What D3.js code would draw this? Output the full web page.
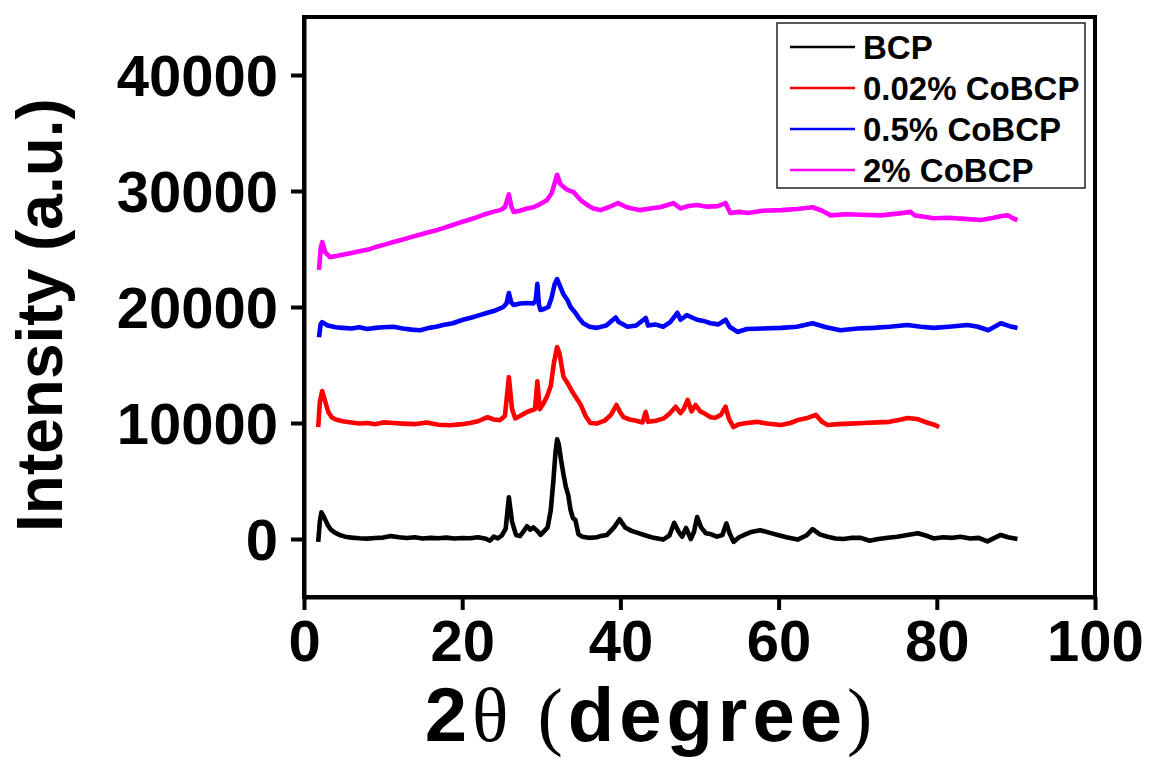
<!DOCTYPE html>
<html>
<head>
<meta charset="utf-8">
<script src="https://cdn.jsdelivr.net/npm/d3@7"></script>
<style>
  html, body { margin: 0; padding: 0; background: #fff; }
  svg { display: block; }
  text { font-family: "Liberation Sans", Arial, sans-serif; font-weight: bold; fill: #000; }
</style>
</head>
<body>
<svg id="chart" width="1149" height="760"></svg>
<script>
// ---- Data ----
const seriesNames = ["BCP", "0.02% CoBCP", "0.5% CoBCP", "2% CoBCP"];
const seriesColors = ["#000000", "#ff0000", "#0000ff", "#ff00ff"];
const xTicks = [0, 20, 40, 60, 80, 100];
const yTicks = [0, 10000, 20000, 30000, 40000];

const bcpAngle = [1.8,2.0,2.2,2.6,3.0,3.4,3.9,4.5,5.2,6,7,8,9,10,11,12,13,14,15,16,17,18,19,20,21,22,23,23.5,24,24.5,25,25.5,25.9,26.3,26.8,27.3,27.8,28.2,28.6,29.0,29.5,29.9,30.4,30.8,31.2,31.5,31.8,32.0,32.2,32.5,32.8,33.1,33.4,33.7,34.0,34.3,34.7,35.2,36,37,37.5,38.3,39.2,39.9,40.6,41.4,42.1,43,44.2,45.4,46.2,46.8,47.3,47.8,48.3,48.9,49.3,49.7,50.2,50.8,51.5,52.2,52.9,53.4,53.8,54.3,55,55.8,56.5,57.7,58.8,59.9,61,62.4,63.5,64.3,65.2,66.2,67.2,68.2,69.3,70.4,71.5,72.6,73.8,75,76.3,77.6,78.6,79.6,80.8,82,83,84.2,85.3,86.4,87.3,88.1,89,90.2];
const bcpIntensity = [-250,1500,2300,1800,1200,800,550,350,200,120,60,30,80,120,250,150,80,150,50,100,60,120,40,90,60,150,20,-150,200,50,300,900,3600,1500,350,250,700,1100,800,1000,700,350,700,1000,2500,4800,7500,8600,8200,6800,5600,4500,3800,2500,1800,1650,400,200,100,150,250,350,1000,1700,1000,700,550,350,100,-50,300,1400,700,200,950,0,600,1900,1000,500,400,200,350,1350,500,-250,150,400,600,750,550,350,150,-50,300,850,400,200,50,0,100,100,-150,0,100,200,350,500,300,50,150,100,200,50,100,-200,100,350,150,0];

const co002Angle = [1.8,2.0,2.3,2.7,3.1,3.5,4.0,4.9,6,7,8,9,10,11.3,12.5,14,15.5,17,18.5,20,21,22,23.2,24,24.8,25.4,25.9,26.3,26.7,27.3,28.2,28.8,29.2,29.5,29.8,30.2,30.7,31.2,31.6,32.0,32.3,32.8,33.3,34,35,35.6,36.2,37,38,38.8,39.5,40.0,40.4,41.2,42,42.8,43.2,43.5,44.5,45.5,46.2,47,47.6,48.0,48.5,49.0,49.5,50.1,50.7,51.4,52,52.7,53.3,53.7,54.3,55,56,57.3,58.5,60.3,61.5,62.4,63.5,64.7,65.5,66.2,67.5,69,70.8,72.5,74,75.5,76.3,77.5,78.9,79.7,80.3];
const co002Intensity = [9650,11800,12750,11800,10900,10500,10300,10150,10050,9950,10000,9900,10050,10000,9950,9900,10050,9850,9800,9900,10000,10150,10500,10300,10250,10600,13950,11200,10400,10600,10950,11100,11200,13600,11200,11600,12250,13200,15200,16550,16000,14000,13450,12600,11550,10600,10000,9950,10200,10700,11550,10900,10500,10300,10200,10050,10950,10100,10200,10400,10800,11400,10850,11200,12000,11000,11550,11000,10800,10500,10450,10700,11400,10400,9650,9900,10000,10100,9950,9830,10000,10250,10400,10700,10100,9830,9900,9950,10000,10050,10100,10300,10430,10350,10000,9850,9650];

const co05Angle = [1.9,2.1,2.3,3,4,4.9,6,7,8,9,10,11.3,12.5,13.6,14.7,15.8,16.7,17.6,18.8,20.1,21.2,22.2,23.2,24.2,25.2,25.6,25.9,26.2,26.5,27.3,28.2,29.0,29.3,29.5,29.7,29.9,30.4,30.9,31.3,31.7,32.0,32.3,32.8,33.3,33.7,34.3,34.8,35.3,36.1,37,38.2,39.4,39.8,40.9,42,43.2,43.5,44.4,45.4,46.3,47.2,47.6,48.4,49.2,49.7,50.5,51.4,52.4,53.3,53.8,54.8,56,58,60.3,62.3,64.3,66,67.8,70,72,74,76.3,78,79.6,81.5,83.9,85.2,86.5,87.3,88.1,89.2,90.2];
const co05Intensity = [17400,18500,18700,18400,18250,18200,18150,18250,18100,18200,18250,18300,18150,18050,18000,18200,18300,18450,18600,18900,19100,19300,19500,19700,20000,20300,21200,20400,20170,20300,20340,20300,20600,22000,20200,19740,19850,20000,20800,22000,22400,21900,21100,20600,20000,19500,19000,18600,18300,18200,18400,19100,18700,18300,18400,19050,18400,18500,18300,18700,19500,18900,19300,19050,18900,18800,18600,18500,18900,18300,17850,18100,18150,18200,18300,18600,18250,18000,18150,18200,18300,18450,18300,18200,18300,18450,18300,18000,18300,18600,18350,18200];

const co2Angle = [1.9,2.1,2.3,2.7,3.3,4.1,4.9,6,7,8.1,9.2,10.3,11.3,12.4,13.4,14.5,15.5,16.6,17.6,18.7,19.8,20.8,21.9,22.9,23.9,24.8,25.4,25.9,26.2,26.5,27.3,28.2,29,29.8,30.7,31.3,31.7,32.0,32.4,32.9,33.3,34.1,35,35.8,36.6,37.5,38.5,39.7,40.8,42.5,43.8,45,46.7,47.6,48.6,49.7,51,52.3,53.3,53.9,55,56.1,58,60.3,62.3,64.3,65.5,66.6,68.5,70.5,72.9,75,76.7,77.2,78.2,79.6,81.5,83.5,85.6,87.2,88.2,89,89.6,90.2];
const co2Intensity = [23200,25000,25600,24700,24300,24400,24500,24650,24800,24950,25200,25400,25600,25800,26000,26200,26400,26600,26800,27050,27300,27500,27750,28000,28200,28350,28600,29700,28700,28200,28300,28500,28600,28850,29200,29800,30700,31400,30600,30300,30100,29900,29200,28800,28500,28350,28600,28950,28600,28350,28500,28600,28950,28500,28700,28800,28650,28700,28950,28100,28200,28100,28300,28350,28450,28600,28300,27900,28000,27950,27900,28050,28200,27900,27800,27650,27700,27600,27500,27700,27850,27900,27650,27500];

const seriesAngles = [bcpAngle, co002Angle, co05Angle, co2Angle];
const seriesIntensities = [bcpIntensity, co002Intensity, co05Intensity, co2Intensity];

// ---- Layout ----
const svg = d3.select("#chart");
const pLeft = 304, pRight = 1095, pTop = 17, pBottom = 597;

const x = d3.scaleLinear().domain([0, 100]).range([pLeft, pRight]);
const y = d3.scaleLinear().domain([-5000, 45000]).range([pBottom, pTop]);

// series
const line = d3.line().x(d => x(d[0])).y(d => y(d[1]));
const plot = svg.append("g");
seriesNames.forEach((name, i) => {
  const pts = seriesAngles[i].map((a, j) => [a, seriesIntensities[i][j]]);
  plot.append("path")
    .attr("d", line(pts))
    .attr("fill", "none")
    .attr("stroke", seriesColors[i])
    .attr("stroke-width", 4.6)
    .attr("stroke-linejoin", "round");
});

// frame
svg.append("rect")
  .attr("x", pLeft).attr("y", pTop)
  .attr("width", pRight - pLeft).attr("height", pBottom - pTop)
  .attr("fill", "none").attr("stroke", "#000").attr("stroke-width", 4);

// axes
const fmt = d3.format("d");
const xAxis = d3.axisBottom(x).tickValues(xTicks).tickFormat(fmt).tickSize(13).tickSizeOuter(0).tickPadding(10);
const gx = svg.append("g").attr("transform", `translate(0,${pBottom})`).call(xAxis);
const yAxis = d3.axisLeft(y).tickValues(yTicks).tickFormat(fmt).tickSize(13).tickSizeOuter(0).tickPadding(13);
const gy = svg.append("g").attr("transform", `translate(${pLeft},0)`).call(yAxis);
[gx, gy].forEach(g => {
  g.select(".domain").attr("stroke", "#000").attr("stroke-width", 4);
  g.selectAll(".tick line").attr("stroke", "#000").attr("stroke-width", 4);
  g.selectAll(".tick text").attr("font-size", 58).attr("font-family", "Liberation Sans, Arial, sans-serif").attr("font-weight", "bold").attr("fill", "#000");
});
gy.selectAll(".tick text").attr("dy", "0.36em");

// axis titles
svg.append("text")
  .attr("transform", `translate(62,315) rotate(-90)`)
  .attr("text-anchor", "middle")
  .attr("font-size", 64)
  .text("Intensity (a.u.)");

const xt = svg.append("text")
  .attr("x", 651).attr("y", 741)
  .attr("text-anchor", "middle")
  .attr("letter-spacing", 5)
  .attr("font-size", 76);
xt.append("tspan").text("2");
xt.append("tspan").attr("font-family", "Liberation Serif, serif").attr("font-weight", "normal").text("θ (");
xt.append("tspan").text("degree");
xt.append("tspan").attr("font-family", "Liberation Serif, serif").attr("font-weight", "normal").text(")");

// legend
const lg = svg.append("g");
lg.append("rect")
  .attr("x", 777).attr("y", 23).attr("width", 308).attr("height", 165)
  .attr("fill", "#fff").attr("stroke", "#222").attr("stroke-width", 1.5);
const rowY = [47, 88, 129, 170];
seriesNames.forEach((name, i) => {
  lg.append("line")
    .attr("x1", 790).attr("x2", 855)
    .attr("y1", rowY[i]).attr("y2", rowY[i])
    .attr("stroke", seriesColors[i]).attr("stroke-width", 2.5);
  lg.append("text")
    .attr("x", 863).attr("y", rowY[i])
    .attr("dy", "0.36em")
    .attr("font-size", 33)
    .text(name);
});
</script>
</body>
</html>
